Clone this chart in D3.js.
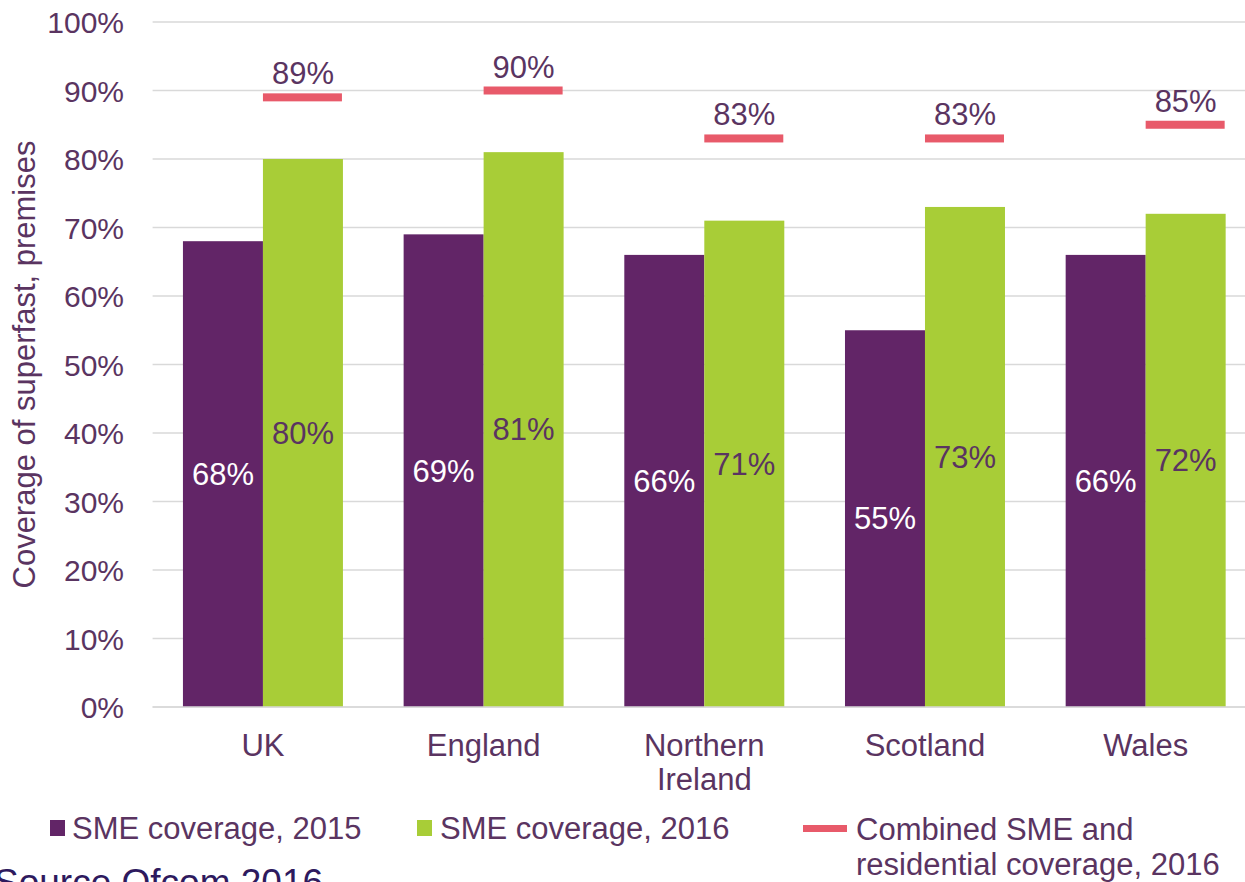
<!DOCTYPE html>
<html><head><meta charset="utf-8">
<script src="https://cdn.jsdelivr.net/npm/d3@7"></script>
<style>body{margin:0;background:#fff;overflow:hidden}svg{display:block;font-family:"Liberation Sans",Arial,sans-serif}</style>
</head><body>
<svg id="c" width="1245" height="882"></svg>
<script>
const categories = ["UK","England","Northern Ireland","Scotland","Wales"];
const sme2015 = [68,69,66,55,66];
const sme2016 = [80,81,71,73,72];
const combined2016 = [89,90,83,83,85];
const yTicks = [0,10,20,30,40,50,60,70,80,90,100];
const seriesNames = ["SME coverage, 2015","SME coverage, 2016","Combined SME and residential coverage, 2016"];

(function(){
const C_PURPLE="#622567", C_GREEN="#a8cd37", C_RED="#e85a6a", C_TEXT="#5a3461", C_GRID="#d9d9d9";
const svg = d3.select("#c");
const pL=152.6, pR=1256, pT=22, pB=707;
const x = d3.scaleBand().domain(categories).range([pL,pR]).paddingInner(0.275).paddingOuter(0.1375);
const y = d3.scaleLinear().domain([0,100]).range([pB,pT]);
const sub = d3.scaleBand().domain(["a","b"]).range([0,x.bandwidth()]);

// gridlines
svg.append("g").selectAll("line").data(yTicks).join("line")
  .attr("x1",pL).attr("x2",pR).attr("y1",d=>y(d)).attr("y2",d=>y(d))
  .attr("stroke",C_GRID).attr("stroke-width",1.5);

// y axis labels
const yAxis = d3.axisLeft(y).tickValues(yTicks).tickFormat(d=>d+"%").tickSize(0).tickPadding(0);
const ga = svg.append("g").attr("transform",`translate(124,0)`).call(yAxis);
ga.select(".domain").remove();
ga.selectAll("text").attr("font-size",30).attr("fill",C_TEXT).attr("font-family","Liberation Sans, Arial, sans-serif").attr("dy","0.35em");

// y title
svg.append("text").attr("transform",`translate(35,${(pT+pB)/2}) rotate(-90)`)
  .attr("text-anchor","middle").attr("font-size",31).attr("fill",C_TEXT)
  .text("Coverage of superfast, premises");

// bars
const g = svg.append("g");
g.selectAll(".b15").data(categories).join("rect")
  .attr("x",d=>x(d)+sub("a")).attr("width",sub.bandwidth())
  .attr("y",(d,i)=>y(sme2015[i])).attr("height",(d,i)=>y(0)-y(sme2015[i])).attr("fill",C_PURPLE);
g.selectAll(".b16").data(categories).join("rect")
  .attr("x",d=>x(d)+sub("b")).attr("width",sub.bandwidth())
  .attr("y",(d,i)=>y(sme2016[i])).attr("height",(d,i)=>y(0)-y(sme2016[i])).attr("fill",C_GREEN);
svg.append("line").attr("x1",pL).attr("x2",pR).attr("y1",y(0)).attr("y2",y(0)).attr("stroke",C_GRID).attr("stroke-width",1.5);

// combined markers
g.selectAll(".cm").data(categories).join("rect")
  .attr("x",d=>x(d)+sub("b")).attr("width",sub.bandwidth()-1)
  .attr("y",(d,i)=>y(combined2016[i])-4).attr("height",8).attr("fill",C_RED);

// labels
g.selectAll(".l15").data(categories).join("text")
  .attr("x",d=>x(d)+sub("a")+sub.bandwidth()/2)
  .attr("y",(d,i)=>y(sme2015[i]/2)).attr("dy","0.35em")
  .attr("text-anchor","middle").attr("font-size",31).attr("fill","#fff")
  .text((d,i)=>sme2015[i]+"%");
g.selectAll(".l16").data(categories).join("text")
  .attr("x",d=>x(d)+sub("b")+sub.bandwidth()/2)
  .attr("y",(d,i)=>y(sme2016[i]/2)).attr("dy","0.35em")
  .attr("text-anchor","middle").attr("font-size",31).attr("fill",C_TEXT)
  .text((d,i)=>sme2016[i]+"%");
g.selectAll(".lc").data(categories).join("text")
  .attr("x",d=>x(d)+sub("b")+sub.bandwidth()/2)
  .attr("y",(d,i)=>y(combined2016[i])-13)
  .attr("text-anchor","middle").attr("font-size",31).attr("fill",C_TEXT)
  .text((d,i)=>combined2016[i]+"%");

// x labels
const xl = svg.append("g").selectAll("text").data(categories).join("text")
  .attr("x",d=>x(d)+x.bandwidth()/2).attr("y",756)
  .attr("text-anchor","middle").attr("font-size",31).attr("fill",C_TEXT);
xl.each(function(d){
  const words = d==="Northern Ireland" ? ["Northern","Ireland"] : [d];
  d3.select(this).selectAll("tspan").data(words).join("tspan")
    .attr("x",x(d)+x.bandwidth()/2).attr("dy",(w,i)=>i?34:0).text(w=>w);
});

// legend
const lg = svg.append("g");
lg.append("rect").attr("x",50).attr("y",820).attr("width",15).attr("height",16).attr("fill",C_PURPLE);
lg.append("text").attr("x",72).attr("y",839).attr("font-size",31).attr("fill",C_TEXT).text(seriesNames[0]);
lg.append("rect").attr("x",417).attr("y",820).attr("width",15).attr("height",16).attr("fill",C_GREEN);
lg.append("text").attr("x",440).attr("y",839).attr("font-size",31).attr("fill",C_TEXT).text(seriesNames[1]);
lg.append("rect").attr("x",803).attr("y",825).attr("width",44).attr("height",7).attr("fill",C_RED);
lg.append("text").attr("x",856).attr("y",840).attr("font-size",31).attr("fill",C_TEXT).text("Combined SME and");
lg.append("text").attr("x",856).attr("y",875).attr("font-size",31).attr("fill",C_TEXT).text("residential coverage, 2016");

// source
svg.append("text").attr("x",-6).attr("y",895).attr("font-size",37).attr("fill","#2e1a5e").text("Source Ofcom 2016");
})();
</script>
</body></html>
